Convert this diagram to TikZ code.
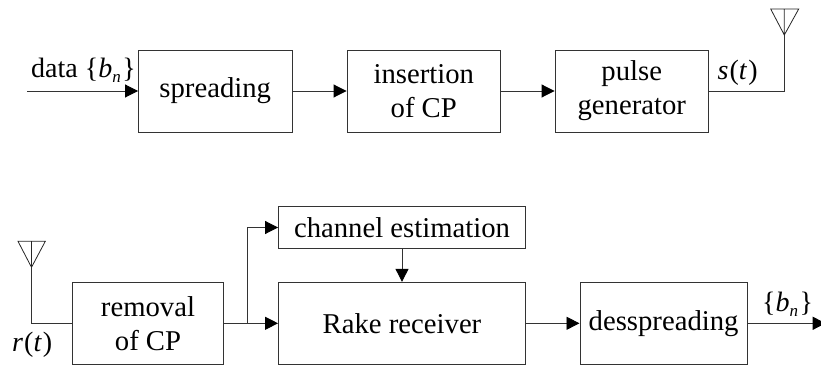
\documentclass[tikz,border=0pt]{standalone}
\usepackage{fontspec}
\setmainfont{Liberation Serif}
\usetikzlibrary{arrows.meta}
\newcommand{\bsub}{\textit{b}\raisebox{-5pt}{\fontsize{17}{17}\selectfont\textit{n}}\kern 1.5pt}
\tikzset{
  blockbox/.style={draw=black!80,line width=0.9pt,align=center,inner sep=0pt,font=\fontsize{28.7}{34}\selectfont},
  lbl/.style={inner sep=0pt,anchor=base west,font=\fontsize{28}{34}\selectfont},
  wire/.style={draw=black!80,line width=0.9pt},
  flow/.style={wire,-{Triangle[length=13pt,width=13pt,black]}},
  aerial/.style={draw=black!85,line width=0.8pt,line join=miter}
}
\begin{document}
\begin{tikzpicture}[x=1pt,y=-1pt]
\useasboundingbox (0,0) rectangle (821,366);
% top row
\node[blockbox,minimum width=153.5pt,minimum height=82pt] (spread) at (215.25,91) {spreading};
\node[blockbox,minimum width=153.5pt,minimum height=82pt] (insert) at (423.75,91) {insertion\\of CP};
\node[blockbox,minimum width=153.5pt,minimum height=82pt] (pulse) at (631.75,91) {pulse\\generator};
% bottom row
\node[blockbox,minimum width=151pt,minimum height=82pt] (removal) at (148,323.3) {removal\\of CP};
\node[blockbox,minimum width=247pt,minimum height=82pt] (rake) at (402,323.3) {Rake receiver};
\node[blockbox,minimum width=247pt,minimum height=42.4pt] (chan) at (402,227.5) {channel estimation};
\node[blockbox,minimum width=167.3pt,minimum height=82pt] (dess) at (663.6,323.3) {desspreading};
% free ends
\coordinate (datain) at (27,91);
\coordinate (txtip) at (784.3,35);
\coordinate (txtop) at (784.3,9);
\coordinate (txl) at (770.7,9);
\coordinate (txr) at (798.7,9);
\coordinate (rxtip) at (31.5,267.3);
\coordinate (rxtop) at (31.5,241.3);
\coordinate (rxl) at (18,241.3);
\coordinate (rxr) at (45.3,241.3);
\coordinate (branch) at (247.5,323.3);
\coordinate (out) at (825.7,323.3);
% connectors
\draw[flow] (datain) -- (spread.west);
\draw[flow] (spread) -- (insert);
\draw[flow] (insert) -- (pulse);
\draw[wire] (pulse.east) -| (txtip);
\draw[aerial] (txl) -- (txr) -- (txtip) -- cycle (txtop) -- (txtip);
\draw[aerial] (rxl) -- (rxr) -- (rxtip) -- cycle (rxtop) -- (rxtip);
\draw[wire] (rxtip) |- (removal.west);
\draw[flow] (removal.east) -- (rake.west);
\draw[flow] (branch) |- (chan.west);
\draw[flow] (chan) -- (rake);
\draw[flow] (rake) -- (dess);
\draw[flow] (dess) -- (out);
% labels
\node[lbl] (ldata) at (31,78) {data \{\bsub\}};
\node[lbl] (ls) at (717.5,79.5) {\textit{s}\kern 1pt(\textit{t}\kern 1pt)};
\node[lbl] (lr) at (12,351) {\textit{r}\kern 1pt(\textit{t}\kern 1pt)};
\node[lbl] (lb) at (762,311) {\{\bsub\}};
\end{tikzpicture}
\end{document}
